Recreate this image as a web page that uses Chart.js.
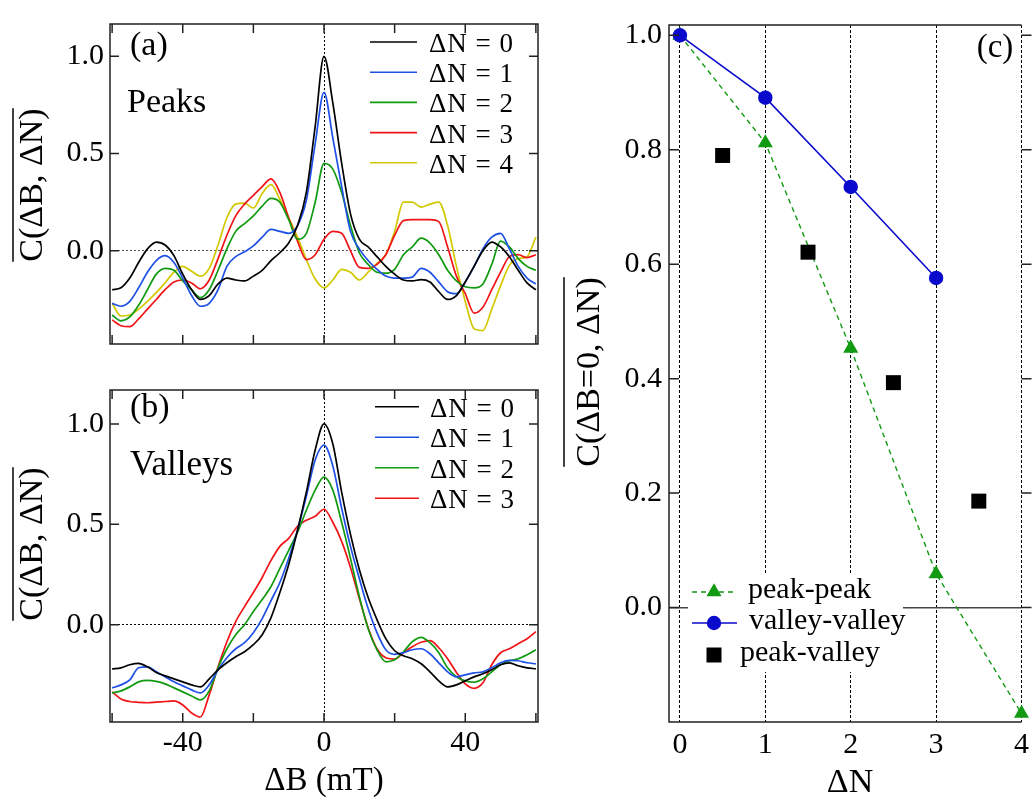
<!DOCTYPE html>
<html>
<head>
<meta charset="utf-8">
<script src="https://cdn.jsdelivr.net/npm/chart.js@4.4.1/dist/chart.umd.min.js"></script>
<style>
  body { margin: 0; background: #fff; }
  #page { position: relative; width: 1034px; height: 804px; overflow: hidden; }
  #page canvas { position: absolute; }
</style>
</head>
<body>
<div id="page">
  <canvas id="peaksChart" width="560" height="368" style="left:0;top:0;width:560px;height:368px"></canvas>
  <canvas id="valleysChart" width="560" height="438" style="left:0;top:366px;width:560px;height:438px"></canvas>
  <canvas id="summaryChart" width="474" height="804" style="left:560px;top:0;width:474px;height:804px"></canvas>
</div>
<script>
// field offset grid (mT), shared by every curve of panels (a) and (b)
const fieldB = [-60, -57.5, -55, -52.5, -50, -47.5, -45, -42.5, -40, -37.5, -35, -32.5, -30, -27.5, -25, -22.5,
  -20, -17.5, -15, -12.5, -10, -7.5, -5, -2.5, 0, 2.5, 5, 7.5, 10, 12.5, 15, 17.5, 20, 22.5, 25, 27.5, 30, 32.5,
  35, 37.5, 40, 42.5, 45, 47.5, 50, 52.5, 55, 57.5, 60];

// (a) peaks
const peaksDN0 = [-0.20, -0.19, -0.14, -0.06, 0.01, 0.045, 0.03, -0.025, -0.12, -0.20, -0.25, -0.23, -0.17, -0.14, -0.15, -0.155,
  -0.13, -0.10, -0.05, -0.01, 0.04, 0.13, 0.30, 0.64, 1.00, 0.76, 0.45, 0.19, 0.06, 0.02, -0.03, -0.08, -0.12, -0.15, -0.155, -0.148,
  -0.16, -0.21, -0.25, -0.23, -0.16, -0.08, 0.00, 0.045, 0.02, -0.03, -0.10, -0.165, -0.20];
const peaksDN1 = [-0.27, -0.285, -0.26, -0.19, -0.11, -0.05, -0.025, -0.06, -0.14, -0.23, -0.285, -0.27, -0.20, -0.08, -0.03, -0.005,
  0.025, 0.07, 0.11, 0.10, 0.09, 0.13, 0.26, 0.55, 0.815, 0.58, 0.33, 0.10, 0.01, -0.05, -0.095, -0.13, -0.14, -0.14, -0.135, -0.09,
  -0.11, -0.16, -0.21, -0.22, -0.16, -0.08, 0.01, 0.07, 0.09, 0.01, -0.08, -0.14, -0.17];
const peaksDN2 = [-0.33, -0.36, -0.34, -0.28, -0.20, -0.12, -0.09, -0.10, -0.155, -0.20, -0.24, -0.20, -0.10, 0.01, 0.10, 0.14,
  0.18, 0.23, 0.27, 0.25, 0.16, 0.06, 0.09, 0.25, 0.45, 0.42, 0.30, 0.13, -0.01, -0.07, -0.11, -0.115, -0.095, -0.02, 0.02, 0.065,
  0.04, -0.02, -0.10, -0.155, -0.185, -0.19, -0.17, -0.07, 0.05, 0.02, -0.04, -0.08, -0.10];
const peaksDN3 = [-0.355, -0.385, -0.39, -0.35, -0.30, -0.25, -0.20, -0.16, -0.15, -0.165, -0.195, -0.15, -0.04, 0.08, 0.18, 0.24,
  0.285, 0.33, 0.37, 0.30, 0.17, 0.05, -0.045, -0.02, 0.06, 0.10, 0.09, 0.00, -0.085, -0.09, -0.07, -0.02, 0.08, 0.155, 0.16, 0.16,
  0.16, 0.15, 0.02, -0.13, -0.22, -0.32, -0.29, -0.20, -0.11, -0.03, -0.02, -0.035, -0.02];
const peaksDN4 = [-0.27, -0.335, -0.33, -0.30, -0.26, -0.215, -0.165, -0.11, -0.08, -0.105, -0.13, -0.09, 0.03, 0.17, 0.24, 0.245,
  0.22, 0.295, 0.34, 0.265, 0.17, 0.07, -0.045, -0.145, -0.19, -0.15, -0.095, -0.11, -0.15, -0.11, -0.065, -0.02, 0.10, 0.25, 0.25, 0.225,
  0.24, 0.25, 0.13, -0.08, -0.26, -0.40, -0.41, -0.30, -0.18, -0.075, -0.04, -0.03, 0.07];

// (b) valleys
const valleysDN0 = [-0.22, -0.215, -0.20, -0.193, -0.21, -0.238, -0.255, -0.27, -0.285, -0.30, -0.31, -0.27, -0.225, -0.19, -0.16, -0.135,
  -0.10, -0.05, 0.035, 0.16, 0.30, 0.47, 0.66, 0.87, 1.00, 0.90, 0.66, 0.45, 0.275, 0.135, 0.025, -0.07, -0.13, -0.155, -0.17, -0.195,
  -0.235, -0.28, -0.31, -0.30, -0.28, -0.26, -0.245, -0.225, -0.20, -0.19, -0.205, -0.215, -0.22];
const valleysDN1 = [-0.315, -0.30, -0.275, -0.215, -0.21, -0.235, -0.26, -0.285, -0.305, -0.325, -0.34, -0.30, -0.225, -0.165, -0.12, -0.09,
  -0.04, 0.03, 0.12, 0.21, 0.33, 0.47, 0.64, 0.82, 0.895, 0.79, 0.58, 0.39, 0.23, 0.08, -0.04, -0.125, -0.148, -0.14, -0.125, -0.12,
  -0.145, -0.19, -0.235, -0.26, -0.25, -0.24, -0.235, -0.215, -0.19, -0.178, -0.18, -0.19, -0.195];
const valleysDN2 = [-0.34, -0.33, -0.31, -0.285, -0.278, -0.283, -0.295, -0.315, -0.335, -0.355, -0.375, -0.33, -0.215, -0.12, -0.05, 0.0,
  0.065, 0.125, 0.19, 0.28, 0.37, 0.46, 0.57, 0.67, 0.735, 0.67, 0.51, 0.33, 0.14, -0.02, -0.125, -0.185, -0.175, -0.135, -0.085, -0.063,
  -0.09, -0.14, -0.215, -0.26, -0.28, -0.287, -0.27, -0.235, -0.20, -0.18, -0.17, -0.15, -0.125];
const valleysDN3 = [-0.335, -0.37, -0.383, -0.387, -0.389, -0.386, -0.383, -0.38, -0.40, -0.44, -0.46, -0.35, -0.21, -0.085, 0.015, 0.09,
  0.16, 0.235, 0.32, 0.39, 0.43, 0.49, 0.52, 0.54, 0.575, 0.51, 0.415, 0.285, 0.13, -0.015, -0.12, -0.165, -0.172, -0.14, -0.11, -0.088,
  -0.08, -0.115, -0.17, -0.238, -0.295, -0.317, -0.29, -0.20, -0.14, -0.12, -0.095, -0.07, -0.035];

// (c) correlation at zero field offset
const dNpeak = [0, 1, 2, 3, 4];
const peakPeak = [1.0, 0.812, 0.453, 0.059, -0.185];
const dNvalley = [0, 1, 2, 3];
const valleyValley = [1.0, 0.891, 0.735, 0.576];
const dNmixed = [0.5, 1.5, 2.5, 3.5];
const peakValley = [0.790, 0.621, 0.393, 0.186];

// ticks
const fieldTicks = [-60, -40, -20, 0, 20, 40, 60];
const fieldLabels = [-40, 0, 40];
const corrTicks = [0, 0.5, 1.0];
const dNTicks = [0, 1, 2, 3, 4];
const zeroTicks = [0, 0.2, 0.4, 0.6, 0.8, 1.0];

const curveColors = ['#000000', '#1e50e6', '#109a10', '#f01418', '#d2c800'];
const SERIF = "'Liberation Serif', 'Times New Roman', serif";

Chart.defaults.font.family = SERIF;
Chart.defaults.color = '#000';

function drawMarker(ctx, style, r, x, y) {
  ctx.beginPath();
  if (style === 'triangle') {
    ctx.moveTo(x, y - r);
    ctx.lineTo(x + r * 0.866, y + r / 2);
    ctx.lineTo(x - r * 0.866, y + r / 2);
    ctx.closePath();
  } else if (style === 'rect') {
    const s = r * Math.SQRT1_2;
    ctx.rect(x - s, y - s, 2 * s, 2 * s);
  } else {
    ctx.arc(x, y, r, 0, Math.PI * 2);
  }
  ctx.fill();
}

// frame, inward ticks, titles, notes and legends
const decor = {
  id: 'decor',
  afterDraw(chart, args, o) {
    const {ctx, chartArea: a} = chart;
    const xs = chart.scales.x, ys = chart.scales.y;
    ctx.save();

    if (o.curveLegend) {
      const L = o.curveLegend;
      chart.data.datasets.forEach((ds, i) => {
        const y = L.y + i * L.dy;
        ctx.strokeStyle = ds.borderColor;
        ctx.lineWidth = 1.6;
        ctx.setLineDash([]);
        ctx.beginPath(); ctx.moveTo(L.x1, y); ctx.lineTo(L.x2, y); ctx.stroke();
        ctx.fillStyle = '#000';
        ctx.font = L.size + 'px ' + SERIF;
        ctx.letterSpacing = '1px';
        ctx.textBaseline = 'alphabetic';
        ctx.textAlign = 'left';
        ctx.fillText(ds.label, L.tx, y + 10);
        ctx.letterSpacing = '0px';
      });
    }

    if (o.markerLegend) {
      const L = o.markerLegend;
      ctx.fillStyle = '#fff';
      ctx.fillRect(L.box[0], L.box[1], L.box[2], L.box[3]);
      chart.data.datasets.forEach((ds, i) => {
        const y = L.rows[i];
        if (ds.showLine !== false) {
          ctx.strokeStyle = ds.borderColor;
          ctx.lineWidth = ds.borderWidth;
          ctx.setLineDash(ds.borderDash || []);
          ctx.beginPath(); ctx.moveTo(L.x1, y); ctx.lineTo(L.x2, y); ctx.stroke();
          ctx.setLineDash([]);
        }
        ctx.fillStyle = ds.pointBackgroundColor;
        drawMarker(ctx, ds.pointStyle, ds.pointRadius, L.mx, y);
        ctx.fillStyle = '#000';
        ctx.font = L.size + 'px ' + SERIF;
        ctx.textAlign = 'left';
        ctx.textBaseline = 'alphabetic';
        ctx.fillText(ds.label, L.tx[i], y + 6);
      });
    }

    // frame and tick marks
    ctx.strokeStyle = '#222';
    ctx.lineWidth = 1.5;
    ctx.setLineDash([]);
    ctx.beginPath();
    ctx.moveTo(a.right, a.top); ctx.lineTo(a.left, a.top); ctx.lineTo(a.left, a.bottom); ctx.lineTo(a.right, a.bottom);
    if (o.closed) ctx.closePath();
    ys.ticks.forEach(t => {
      const y = ys.getPixelForValue(t.value);
      ctx.moveTo(a.left, y); ctx.lineTo(a.left + o.tick, y);
      ctx.moveTo(a.right, y); ctx.lineTo(a.right + o.rightTick, y);
    });
    if (o.xTicks) {
      xs.ticks.forEach(t => {
        const x = xs.getPixelForValue(t.value);
        ctx.moveTo(x, a.bottom); ctx.lineTo(x, a.bottom - o.tick);
        ctx.moveTo(x, a.top); ctx.lineTo(x, a.top + o.tick);
      });
    }
    ctx.stroke();

    // rotated y title with overline
    if (o.yTitle) {
      const T = o.yTitle;
      ctx.save();
      ctx.translate(T.x, T.y);
      ctx.rotate(-Math.PI / 2);
      ctx.fillStyle = '#000';
      ctx.font = T.size + 'px ' + SERIF;
      ctx.textAlign = 'center';
      ctx.textBaseline = 'alphabetic';
      ctx.fillText(T.text, 0, 0);
      const w = ctx.measureText(T.text).width;
      ctx.strokeStyle = '#000';
      ctx.lineWidth = 1.5;
      ctx.beginPath(); ctx.moveTo(-w / 2, -T.over); ctx.lineTo(w / 2, -T.over); ctx.stroke();
      ctx.restore();
    }

    (o.notes || []).forEach(n => {
      ctx.fillStyle = '#000';
      ctx.font = n.size + 'px ' + SERIF;
      ctx.textAlign = n.align || 'left';
      ctx.textBaseline = 'alphabetic';
      ctx.fillText(n.text, n.x, n.y);
    });
    ctx.restore();
  }
};

function fieldPanel(id, series, cfg) {
  const datasets = series.map((vals, i) => ({
    label: 'ΔN = ' + i,
    data: vals.map((v, k) => ({x: fieldB[k], y: v})),
    borderColor: curveColors[i],
    borderWidth: 1.7,
    pointRadius: 0,
    cubicInterpolationMode: 'monotone'
  }));
  return new Chart(document.getElementById(id), {
    type: 'line',
    data: {datasets},
    options: {
      responsive: false,
      devicePixelRatio: 1,
      animation: false,
      events: [],
      layout: {padding: {top: cfg.top, right: 22, left: 0, bottom: 0}},
      plugins: {legend: {display: false}, tooltip: {enabled: false}, decor: cfg.decor},
      scales: {
        x: {
          type: 'linear', min: -60.6, max: 60.6,
          afterBuildTicks: s => { s.ticks = fieldTicks.map(v => ({value: v})); },
          afterFit: s => { s.height = cfg.xHeight; },
          ticks: {display: cfg.xLabels, padding: 3, maxRotation: 0, autoSkip: false, font: {size: 30},
            callback: v => fieldLabels.includes(v) ? String(v) : ''},
          grid: {drawTicks: false, lineWidth: 1, color: c => c.tick && c.tick.value === 0 ? '#000' : 'rgba(0,0,0,0)'},
          border: {display: false, dash: [2, 2]}
        },
        y: {
          min: cfg.yMin, max: cfg.yMax,
          afterBuildTicks: s => { s.ticks = corrTicks.map(v => ({value: v})); },
          afterFit: s => { s.width = 110; },
          ticks: {padding: 6, font: {size: 30}, callback: v => v.toFixed(1)},
          grid: {drawTicks: false, lineWidth: 1, color: c => c.tick && c.tick.value === 0 ? cfg.zeroColor : 'rgba(0,0,0,0)'},
          border: {display: false, dash: [2, 2]}
        }
      }
    },
    plugins: [decor]
  });
}

fieldPanel('peaksChart', [peaksDN0, peaksDN1, peaksDN2, peaksDN3, peaksDN4], {
  top: 13, xHeight: 8, xLabels: false, yMin: -0.479, yMax: 1.166, zeroColor: '#555',
  decor: {
    closed: true, tick: 9, rightTick: -9, xTicks: true,
    curveLegend: {x1: 370, x2: 417, tx: 429, y: 42, dy: 30.2, size: 27},
    yTitle: {text: 'C(ΔB, ΔN)', x: 42, y: 185, size: 34, over: 29},
    notes: [
      {text: '(a)', x: 130, y: 55, size: 34},
      {text: 'Peaks', x: 127, y: 112, size: 34}
    ]
  }
});

fieldPanel('valleysChart', [valleysDN0, valleysDN1, valleysDN2, valleysDN3], {
  top: 8, xHeight: 82, xLabels: true, yMin: -0.485, yMax: 1.169, zeroColor: '#000',
  decor: {
    closed: true, tick: 9, rightTick: -9, xTicks: true,
    curveLegend: {x1: 375, x2: 419, tx: 430, y: 40.7, dy: 30.5, size: 27},
    yTitle: {text: 'C(ΔB, ΔN)', x: 42, y: 178, size: 34, over: 29},
    notes: [
      {text: '(b)', x: 130, y: 51, size: 34},
      {text: 'Valleys', x: 130, y: 109, size: 35},
      {text: 'ΔB (mT)', x: 324, y: 424, size: 33, align: 'center'}
    ]
  }
});

new Chart(document.getElementById('summaryChart'), {
  type: 'line',
  data: {
    datasets: [
      {
        label: 'peak-peak',
        data: dNpeak.map((n, i) => ({x: n, y: peakPeak[i]})),
        borderColor: '#129a12', borderWidth: 1.4, borderDash: [5, 4],
        pointStyle: 'triangle', pointRadius: 8.7, pointBackgroundColor: '#129a12', pointBorderWidth: 0,
        clip: false, order: 3
      },
      {
        label: 'valley-valley',
        data: dNvalley.map((n, i) => ({x: n, y: valleyValley[i]})),
        borderColor: '#0a0acc', borderWidth: 1.6,
        pointStyle: 'circle', pointRadius: 7.2, pointBackgroundColor: '#0a0acc', pointBorderWidth: 0,
        clip: false, order: 1
      },
      {
        label: 'peak-valley',
        data: dNmixed.map((n, i) => ({x: n, y: peakValley[i]})),
        showLine: false,
        borderColor: '#000',
        pointStyle: 'rect', pointRadius: 10.6, pointBackgroundColor: '#000', pointBorderWidth: 0,
        clip: false, order: 2
      }
    ]
  },
  options: {
    responsive: false,
    devicePixelRatio: 1,
    animation: false,
    events: [],
    layout: {padding: {top: 13, right: 10, left: 0, bottom: 0}},
    plugins: {
      legend: {display: false},
      tooltip: {enabled: false},
      decor: {
        closed: false, tick: 10, rightTick: 10, xTicks: false,
        markerLegend: {box: [128, 573, 215, 99], rows: [592, 623, 655], x1: 132, x2: 177, mx: 154,
          tx: [188, 189, 180], size: 30},
        yTitle: {text: 'C(ΔB=0, ΔN)', x: 39, y: 372, size: 34, over: 35},
        notes: [
          {text: '(c)', x: 435, y: 57, size: 33, align: 'center'},
          {text: 'ΔN', x: 290, y: 792, size: 34, align: 'center'}
        ]
      }
    },
    scales: {
      x: {
        type: 'linear', min: -0.128, max: 4,
        afterBuildTicks: s => { s.ticks = dNTicks.map(v => ({value: v})); },
        afterFit: s => { s.height = 82; },
        ticks: {padding: 5, maxRotation: 0, autoSkip: false, font: {size: 30}, callback: v => String(v)},
        grid: {drawTicks: false, lineWidth: 1, color: '#000'},
        border: {display: false, dash: [3, 2]}
      },
      y: {
        min: -0.2, max: 1.018,
        afterBuildTicks: s => { s.ticks = zeroTicks.map(v => ({value: v})); },
        afterFit: s => { s.width = 109; },
        ticks: {padding: 7, font: {size: 30}, callback: v => v.toFixed(1)},
        grid: {drawTicks: false, lineWidth: 1.5, color: c => c.tick && c.tick.value === 0 ? '#444' : 'rgba(0,0,0,0)'},
        border: {display: false}
      }
    }
  },
  plugins: [decor]
});
</script>
</body>
</html>
